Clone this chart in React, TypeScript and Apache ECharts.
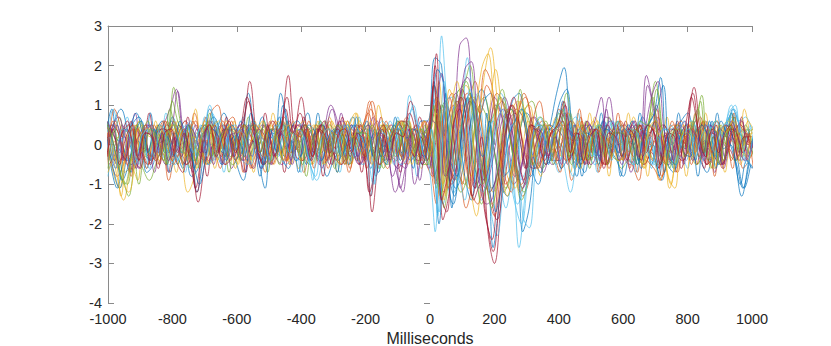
import React, { useEffect, useRef } from "react";
import * as echarts from "echarts";

// sample times (ms)
const times = [
  -1000, -980, -960, -940, -920, -900, -880, -860, -840, -820,
  -800, -780, -760, -740, -720, -700, -680, -660, -640, -620,
  -600, -580, -560, -540, -520, -500, -480, -460, -440, -420,
  -400, -380, -360, -340, -320, -300, -280, -260, -240, -220,
  -200, -180, -160, -140, -120, -100, -80, -60, -40, -20,
  0, 20, 40, 60, 80, 100, 120, 140, 160, 180,
  200, 220, 240, 260, 280, 300, 320, 340, 360, 380,
  400, 420, 440, 460, 480, 500, 520, 540, 560, 580,
  600, 620, 640, 660, 680, 700, 720, 740, 760, 780,
  800, 820, 840, 860, 880, 900, 920, 940, 960, 980,
  1000,
];
// per-trace sampling offset (ms), cycled over the traces
const sampleOffsets = [0, 8, -8, 4, -4];

const xTicks = [-1000, -800, -600, -400, -200, 0, 200, 400, 600, 800, 1000];
const yTicks = [-4, -3, -2, -1, 0, 1, 2, 3];

const colors = ["#0072BD", "#D95319", "#EDB120", "#7E2F8E", "#77AC30", "#4DBEEE", "#A2142F"];

const s1 = [
  .2,-.6,-1.1,-.4,.5,.7,.1,-.3,.4,-.2,
  .6,.2,-.5,-.1,-1.2,-.3,.9,.4,-.2,.3,
  -.4,.1,1.3,.2,-.6,.3,.1,1.3,.5,-.2,
  .3,-.5,.2,.4,-.1,.3,-.4,.1,.5,-.3,
  .2,-.6,.1,.4,-.2,.5,-.3,.2,.4,-.5,
  .3,2.2,2.0,-.6,-1.3,.4,1.2,-.5,-.9,.8,
  -2.6,-1.4,.3,1.1,1.3,.4,-.6,-1.0,-.2,.6,
  1.4,1.95,.3,-.8,.2,.5,-.3,.6,-.2,.4,
  -.3,.5,.2,-.6,.4,.8,1.7,-.4,-.7,.2,
  .5,-.3,.4,-.2,.6,-.5,.3,.8,-.4,-1.1,
  -.5,
];
const s2 = [
  -.3,.9,.4,-.5,-.2,.3,-.6,.1,.5,.2,
  -.4,.3,.6,-.2,.1,-.5,.8,1.0,.2,-.4,
  .2,-.7,.5,.3,-.3,.1,.6,-.2,.3,.5,
  -.2,.4,-.6,.2,.5,-.1,.3,-.4,.2,.1,
  .6,1.1,.3,-.4,.2,-.3,.5,-.2,.1,.6,
  -.4,-1.5,.8,1.2,-.3,-1.0,.9,1.6,.5,-1.2,
  -1.8,-.5,.9,.4,-1.2,-.8,.6,1.1,.3,-.4,
  .9,.6,-.9,-.3,.4,-.2,.3,-.5,.2,.1,
  .4,-.6,.3,.5,-.2,.1,-.8,-.3,.4,.6,
  -.2,.3,.7,-.5,-.3,.4,.2,-.6,.5,.3,
  .2,
];
const s3 = [
  .1,-.8,-1.4,-.6,.3,.5,-.2,.6,-.1,.3,
  .4,-.3,-1.2,-.8,.2,.5,-.1,.3,.6,-.2,
  .3,.2,-.4,.5,.1,-.3,.6,.2,-.5,.4,
  .6,-.1,.3,-.5,.7,.2,-.3,.4,.8,.1,
  -.4,.2,.5,-.3,.3,.6,.1,-.2,.4,.3,
  .5,1.6,-1.3,.4,1.1,.6,-.8,.3,1.7,2.45,
  1.2,-.3,-.9,-.2,.8,1.0,.2,-.4,.5,.3,
  -.3,.8,.5,-.6,.3,.6,-.2,.1,.4,-.3,
  .2,.5,-.3,-.6,.8,.3,-.4,-1.0,.2,.5,
  -.4,.2,.6,.3,-.5,.1,.4,.2,-.3,.6,
  .3,
];
const s4 = [
  -.2,.4,.7,.2,-.5,-.3,.4,-.4,.2,.5,
  .9,1.4,.3,-.2,.5,.1,-.4,.2,.5,-.3,
  .1,.4,-.2,-.6,.3,.5,-.1,.2,.4,-.5,
  .2,.5,.1,-.3,.4,1.0,.6,-.2,.3,-.4,
  .1,-.5,.3,.2,-.4,-1.2,-.6,.4,-1.0,-.3,
  .6,-.8,-.2,1.0,.4,2.5,2.7,1.0,-.4,-1.1,
  -.5,.4,1.2,.6,-.9,-.3,.5,.2,-.7,-.2,
  .4,.2,-.3,.5,.1,.2,.6,1.2,-.5,.3,
  .3,-.4,.6,.2,1.75,1.1,.4,-.2,-.5,.3,
  .6,-.2,.3,-.4,.5,.2,-.6,.1,.4,-.2,
  .4,
];
const s5 = [
  .4,.1,-.7,-1.3,-.4,.2,.6,-.1,.3,-.5,
  1.45,.6,-.3,.2,-.6,.3,.5,-.2,.4,.1,
  -.2,.5,.3,-.1,.6,-.4,.2,.5,-.3,.2,
  -.5,.3,.4,-.2,.1,-.6,.2,.5,-.1,.3,
  .4,-.2,-.6,.5,.3,-.1,.6,.2,-.3,.5,
  -.6,.9,-1.6,-.4,1.3,1.5,2.0,.5,-1.0,.4,
  .9,1.4,.4,-.6,-1.4,-.9,.3,.7,.2,-.5,
  .3,1.3,.2,-.4,.6,-.2,.5,-.3,.3,.6,
  -.2,.4,-.5,.3,.6,1.4,.2,-.6,.4,-.1,
  .3,.6,1.25,-.4,-.1,.5,.3,.7,-.2,.4,
  -.3,
];
const s6 = [
  -.4,.9,.3,-.2,.6,-.5,.2,.4,-.3,.1,
  .3,-.4,.2,.6,-.3,.2,1.0,.1,-.5,.4,
  .5,-.2,.4,.1,-.6,.3,-.1,.6,.2,.3,
  -.3,.2,-.9,.4,.1,.3,-.2,.5,-.4,.2,
  .3,-1.3,.2,-.3,.6,.2,-.4,1.25,.5,-.2,
  -.5,-2.2,2.75,.6,-1.2,-.3,2.2,.8,-.6,.3,
  .6,-.7,-1.6,-.8,-2.6,-1.2,.2,.6,-.3,.4,
  .2,-.5,-1.2,-.3,.5,.2,-.4,.3,.6,-.1,
  .5,-.3,.2,.6,-.2,-.5,.3,.4,-.6,.2,
  -.4,.2,-.3,.5,.1,-.2,.4,1.0,.6,.3,
  .5,
];
const s7 = [
  .3,-.4,.2,.6,-.3,-.6,.3,.2,-.5,.4,
  -.3,.5,.2,-.4,-1.45,-.5,.3,-.2,.4,.1,
  .4,.6,1.6,.3,-.5,.2,-.3,.5,1.75,.4,
  1.2,.3,-.2,.5,-.4,.2,.6,-.1,.3,-.5,
  .2,-1.7,-.4,.3,.5,-.2,.3,1.1,.4,-.3,
  .4,2.3,-1.9,-1.2,.3,1.4,.6,-1.1,.2,-2.2,
  -3.0,-1.5,.5,1.2,.4,-.6,.4,.3,-.5,.2,
  .6,1.0,-.3,.2,-.5,.4,.3,-.6,.2,.5,
  -.4,.3,.5,-.3,.2,.6,-.4,.3,.2,-.6,
  .4,1.45,.3,-.5,.2,-.3,.5,.2,-.4,.3,
  -.2,
];
const s8 = [
  -.5,-1.1,-.3,.4,.8,.2,-.4,.3,.6,-.2,
  .3,-.2,.5,-.6,.2,.4,.7,.3,-.4,.2,
  -.3,.2,.5,-.4,-1.1,.3,.2,-.3,.4,.6,
  .2,-.4,.3,.5,-.2,.4,.1,-.5,.3,.2,
  -.2,.4,-.3,.1,.5,-.4,.2,-.6,.3,.2,
  -.3,-2.0,1.3,-1.6,.4,-.8,-1.4,.2,1.1,1.3,
  .3,-.8,-.6,.5,-2.2,-1.6,-.2,.4,-.5,.3,
  -.6,-.3,.5,-.4,.2,.4,-.3,.5,.1,-.2,
  .2,.6,-.4,.3,-.5,.2,-.7,.4,.3,-.2,
  -.3,.4,-.2,.6,-.6,.2,.5,-.4,-1.3,-.5,
  .4,
];
const s9 = [
  .5,.2,-.6,.3,-.8,.4,.1,-.3,.2,.6,
  -.2,.4,-.5,.3,.6,-.3,.2,.5,-.1,.3,
  .4,-.3,.2,.6,-.2,.3,-.5,.1,.4,-.2,
  .3,.5,-.2,.4,.1,-.3,.5,.2,-.6,.4,
  .5,1.1,.2,-.2,.4,.1,-.3,.5,.2,-.4,
  .2,1.5,-1.0,.5,1.0,-.4,-1.6,-.9,.6,1.9,
  1.5,.2,-.8,-1.2,.6,1.3,.8,-.3,.2,.5,
  -.2,.5,.3,-.4,.6,-.3,.2,.4,-.5,.1,
  .6,.2,-.3,.5,.1,-.4,.2,-.5,.6,.3,
  .2,-.5,.4,-.2,.3,.6,-.4,.2,.5,-.6,
  -.4,
];
const s10 = [
  .2,-.3,-.9,-1.2,-.5,.3,.4,-.2,.5,-.1,
  .6,.3,-.4,.2,.1,-.5,.4,.6,-.3,.2,
  -.5,.3,.1,.4,-.3,.5,.2,-.4,.3,.1,
  .4,-.2,.5,.3,-.4,.2,-.3,.6,.1,-.2,
  .3,-.4,.2,.5,-.3,.2,.4,-.5,.3,.6,
  -.3,1.2,-1.4,.7,1.6,.3,-1.0,-1.8,-.3,.8,
  1.9,.8,-.4,-1.1,-.3,.6,-.2,-.8,.3,.2,
  .5,-.4,.2,.6,-.3,.4,-.5,.2,.3,-.4,
  -.3,.4,.3,-.6,.5,.3,.2,-1.1,-.4,.3,
  .5,-.2,.3,.4,-.6,.2,.6,.3,-.5,.2,
  .3,
];
const s11 = [
  .6,.3,-.2,.4,.1,-.6,.3,.5,-.2,.3,
  .4,1.35,.2,-.3,.4,-.2,.6,.3,-.5,.2,
  .3,-.4,.5,.2,-.6,-.2,.4,.3,-.1,.5,
  -.3,.4,.2,-.5,.3,.9,.2,-.3,.5,.2,
  -.4,.3,.6,-.2,.1,-.7,-1.2,.4,-.2,.3,
  -.6,.5,1.8,-.3,-.9,1.4,1.7,.9,-1.1,-1.5,
  -1.3,.3,.8,.3,-.5,-1.0,-.4,.2,.5,-.3,
  .3,.8,-.2,-.5,.3,.5,-.2,.4,1.2,.2,
  -.5,.3,.6,-.2,1.5,.8,-.3,.2,-.4,.5,
  .3,-.4,.2,.5,-.2,.4,-.3,.6,.2,-.4,
  .2,
];
const s12 = [
  -.6,.4,-.8,-1.0,.3,.6,-.3,.2,.4,-.5,
  1.1,.5,.2,-.4,.3,.5,-.3,.4,.1,-.3,
  .2,.5,-.3,.2,.4,-.5,.3,.6,-.2,.3,
  .4,-.3,.2,.6,-.2,.3,.5,-.4,.2,-.1,
  -.3,.5,.2,-.4,.3,.6,-.2,.3,-.5,.2,
  .5,-1.1,1.0,.3,-.5,.6,1.2,-.4,-1.5,-.6,
  .5,1.2,.6,-.3,1.4,.4,-.5,.2,.6,-.3,
  .8,.4,-.5,.2,.3,-.4,.5,.2,-.3,.4,
  .3,-.2,.4,-.5,.6,1.6,.4,-.3,-.5,.2,
  .4,.2,1.1,-.3,.2,-.5,.3,.4,-.2,.5,
  .1,
];
const s13 = [
  .3,-.5,.2,.5,-.4,.3,-.6,.2,.4,-.3,
  -.5,.2,.4,-.3,.5,.2,-.4,.6,.3,-.2,
  .3,-.2,.6,.4,-.4,.2,-.3,.5,.1,-.4,
  .2,-.5,-.9,-.3,.4,.2,-.3,.3,.5,-.2,
  .4,-1.0,.3,.2,-.5,.3,.5,1.0,.2,-.4,
  .2,-1.7,1.1,1.2,-.6,-1.4,.4,1.3,.2,-1.6,
  -2.3,-1.0,.4,.6,-1.8,-2.1,-.6,.3,-.4,.5,
  .9,.4,-.6,.3,-.2,.5,-.4,.2,.6,-.3,
  .2,-.5,.3,.4,-.6,.2,-.3,.5,.3,.6,
  -.2,.5,-.4,.3,.6,.2,.8,1.0,-.4,.3,
  .5,
];
const s14 = [
  -.2,.5,.3,-.4,.6,-.3,.2,-.5,.3,.4,
  .2,-.4,-.7,.3,-1.1,-.2,.5,.3,-.3,.4,
  -.3,.4,1.2,.5,-.2,.3,.6,.2,.9,.3,
  .5,.2,-.4,.3,.6,-.2,.4,.2,-.3,.5,
  .3,-1.2,-.5,.4,-.2,.3,.6,.5,-.3,.2,
  -.4,1.6,-1.2,-1.7,.5,.9,-.3,-1.3,-.6,-1.8,
  -2.4,-.8,.6,1.0,-.2,-.9,.5,.4,-.3,.2,
  .4,.6,-.4,.3,.2,-.5,.4,-.2,.5,.3,
  .3,-.4,.2,.5,-.2,.4,-.6,.3,-.2,.4,
  -.3,1.2,.4,-.6,.3,.2,-.5,.4,.3,-.2,
  .3,
];
const s15 = [
  .4,-.2,-.9,-.5,.3,.6,-.2,.4,-.3,.2,
  -.3,.6,.2,-.4,-1.0,-.3,.4,.2,-.3,.5,
  .2,-.3,.8,.2,-.5,.4,-.2,1.0,.3,-.4,
  -.2,.5,.3,-.4,.2,.4,-.3,.1,.5,.3,
  .6,-.3,.2,-.5,.3,.4,-.2,.4,.3,-.3,
  .5,1.9,1.5,-.4,-.8,.8,1.3,.2,-.3,.6,
  -1.7,-.9,.2,.6,.9,.3,-.4,-.7,.3,.5,
  1.1,1.4,.2,-.6,.3,.2,-.5,.4,.3,-.2,
  .4,.2,-.5,.3,.6,.9,1.5,-.3,-.5,.2,
  .3,-.4,.5,.2,-.3,.6,.2,-.3,-1.0,-.4,
  -.6,
];
const s16 = [
  -.5,.6,.2,-.3,.4,-.4,.5,.2,-.3,.6,
  .3,-.3,.4,.2,-.5,.3,.5,-.2,.6,.2,
  -.4,.3,-.2,.5,.3,-.3,.2,.4,-.4,.3,
  .2,.4,-.3,.5,-.2,.3,.2,-.5,.4,.1,
  -.3,.9,.5,-.3,.2,.4,-.4,.2,.5,-.2,
  .3,-1.0,.6,-1.1,-.5,.7,1.3,1.1,.8,1.5,
  1.1,-.2,-1.0,-.5,.9,1.2,.4,-.6,-.2,.3,
  -.4,.3,.6,-.3,.5,-.2,.4,.2,-.6,.3,
  .5,-.3,.4,.2,-.4,-.6,-.9,.3,.5,-.2,
  .2,.4,-.3,.6,-.2,.3,.5,-.4,.2,.4,
  -.2,
];
const s17 = [
  -.7,-.3,-1.3,.2,.5,-.2,.4,.3,-.4,.2,
  .5,.2,-.3,.4,-.2,.6,.3,-.4,.2,.5,
  .3,.5,-.4,.2,.6,-.2,.3,-.3,.5,.2,
  -.4,.3,.5,-.2,.4,.2,-.5,.3,.2,.6,
  .2,-.5,1.0,.3,-.2,.5,.2,-.3,.4,.2,
  -.2,.8,-1.0,1.4,.9,-.6,-1.1,.5,1.9,2.3,
  .8,-.6,-1.3,-.2,1.1,.7,-.3,.2,.5,-.2,
  .6,.3,-.2,.5,-.4,.3,.6,-.3,.2,.4,
  -.4,.3,.2,-.5,.4,.6,.3,-.8,-1.1,.2,
  .3,-.3,.4,.2,-.4,.5,.3,.6,.2,-.3,
  .4,
];
const s18 = [
  .3,.5,-.4,.2,-.6,.3,.5,-.2,.3,-.4,
  .2,-.3,.5,.3,-.2,.4,-.5,.2,.4,-.3,
  .5,.2,-.3,.4,.2,-.5,.3,.2,-.4,.5,
  .3,-.3,.4,.2,-.5,.4,.6,.2,-.3,.2,
  .5,-.2,.3,-.4,.2,-1.1,-.4,.3,-.9,.2,
  .6,.3,-.8,-.3,.5,1.9,2.1,.4,-.9,-.4,
  .6,.9,.3,-.5,-1.1,-.5,.4,.3,-.3,.2,
  -.5,.4,.2,-.3,.6,.3,-.4,.9,-.2,.4,
  .2,.5,-.3,.4,1.2,1.6,.3,-.4,.2,-.5,
  .4,.2,-.3,.5,.3,-.5,.2,.4,.6,-.3,
  .2,
];
const s19 = [
  .6,.2,-.5,-1.0,-.3,.5,-.2,.4,.2,-.4,
  .9,.3,-.2,.5,-.4,.2,.6,-.3,.2,.4,
  .3,-.4,.2,.5,-.2,.3,.4,-.5,.2,.3,
  -.2,.5,.3,-.4,.2,-.3,.5,.2,-.4,.3,
  .3,.2,-.4,.5,.3,-.3,.2,.6,-.2,.4,
  -.5,1.0,-1.3,-.6,.8,1.1,1.6,.9,-.2,-.9,
  -1.6,-.5,.7,.9,-.7,-1.2,-.3,.4,.5,-.2,
  .4,.9,-.3,.2,.5,-.4,.3,.2,-.5,.3,
  .3,.2,-.4,.6,.5,1.2,-.2,-.5,.3,.4,
  -.3,.4,.9,-.2,.4,.3,-.4,.5,.3,.2,
  -.3,
];
const s20 = [
  .2,-.6,.4,.3,-.5,.2,.4,-.3,.5,.1,
  -.4,.3,.5,-.2,.4,-.3,.8,.3,-.2,.4,
  .4,.2,-.5,.3,.1,-.4,.5,.3,-.2,.4,
  .3,-.4,-.8,.2,.4,-.2,.3,.5,-.3,.2,
  -.2,-1.0,.4,.2,-.3,.5,.3,.9,.4,-.3,
  .4,-1.8,1.6,.3,-.9,-.2,1.4,.5,-1.2,-.7,
  .3,.9,-.6,-1.5,-2.0,-.8,.4,.5,-.2,.3,
  .5,-.3,-.8,.4,.2,-.3,.5,.2,-.4,.6,
  -.2,.4,.3,-.3,.2,-.6,.4,.3,-.5,.2,
  .4,-.3,.2,.5,-.2,.4,.6,.9,.3,-.5,
  .3,
];
const s21 = [
  -.3,.4,-.5,.2,.5,-.4,.3,.2,-.6,.3,
  .4,-.2,.3,-.5,-1.2,.2,.5,-.3,.2,.6,
  -.2,.3,1.1,.2,-.4,.5,-.3,.4,1.2,.3,
  .8,.2,-.3,.4,.2,-.5,.3,.4,-.2,.3,
  -.3,-1.3,.2,.5,-.4,.3,.2,.8,.3,-.5,
  .2,2.0,-1.4,-.7,.6,1.2,.3,-1.4,-1.0,-1.9,
  -2.7,-1.3,.4,1.0,.3,-.6,.5,.2,-.4,.3,
  .5,1.1,-.2,.3,-.4,.2,.4,-.5,.3,.2,
  -.3,.4,.2,-.4,.5,.3,-.5,.2,.4,-.3,
  .6,1.3,.2,-.3,.4,-.2,.3,.5,-.3,.2,
  .2,
];
const s22 = [
  .1,.6,.9,.4,-.2,-.1,-.7,-.5,.2,.0,
  .7,.3,-.1,-.8,-.6,.1,-.3,.4,.8,.2,
  -.5,-.9,-.1,.2,.7,.3,.5,-.3,-.6,.1,
  .4,.8,.0,-.2,-.8,-.4,-.1,.3,.7,.1,
  -.3,-.1,-.7,.2,.1,.6,.2,-.4,-.1,.3,
  .5,1.2,.6,-.5,-1.1,-.7,.3,1.0,1.4,.9,
  -.2,-1.0,-1.3,-.5,.4,.8,.5,-.1,-.5,-.3,
  .1,.8,.3,-.3,-.7,.0,.2,.6,-.1,-.4,
  -.8,-.2,.1,.7,.2,-.4,-.9,-.1,.3,.6,
  .8,.1,-.4,-.7,.0,.4,.2,.9,.5,-.3,
  -.6,
];
const s23 = [
  -.4,-.8,-.5,.0,.5,.1,.3,-.4,-.2,-.9,
  -.1,.3,.2,.8,.1,-.5,-.2,-.6,.5,.7,
  .1,.4,-.6,-.3,-.7,.4,.2,.7,-.2,-.1,
  -.7,.1,.5,.2,.6,-.4,-.1,-.7,.1,.4,
  .8,.0,-.3,-.6,.1,.4,.7,.1,-.3,-.5,
  -.8,-.4,.6,1.3,.8,-.3,-1.2,-1.5,-.6,.5,
  1.3,1.0,.2,-.6,-1.3,-.9,.0,.6,.4,-.1,
  -.6,.4,.2,.7,-.4,-.3,-.6,.4,.2,.6,
  -.2,-.5,-.9,.1,.2,.7,-.1,-.2,-.7,.1,
  .5,.2,.6,-.5,-.3,-.6,.3,.2,.6,-.4,
  -.1,
];
const s24 = [
  .8,.0,.2,-.7,-.6,-.9,.3,.2,.5,-.4,
  -.3,-.7,.4,.2,.9,.1,.1,-.6,.0,-.2,
  .6,-.2,.0,-.7,.2,.1,.8,-.1,-.4,-.3,
  -.6,.3,.2,.6,-.5,-.2,-.7,.5,.4,.8,
  -.1,.1,-.6,.2,.5,.2,.6,-.5,-.2,-.6,
  .3,.9,.4,-.7,-.3,.8,1.5,1.1,.2,-.8,
  -1.5,-.9,.1,.8,1.1,.6,-.2,-.6,-.3,.2,
  .7,.1,.2,-.6,.0,-.1,.7,.1,-.4,-.2,
  .1,.0,.7,.1,-.4,.0,-.9,-.6,-.2,.5,
  .2,.6,-.5,-.1,-.6,.5,.2,.5,-.4,-.2,
  -.4,
];
const s25 = [
  -.2,-.6,.5,.3,.8,-.2,-.1,-.7,.1,.0,
  .6,.0,.1,-.7,-.1,-.2,.6,.2,.3,-.6,
  -.3,-.7,.4,.1,.5,-.5,-.2,-.4,.6,.2,
  .5,-.4,-.2,-.6,.4,.3,.8,-.2,-.1,-.5,
  .1,.7,-.1,.0,-.8,-.5,-.6,.3,.0,.2,
  -.3,-1.0,-.5,.6,1.1,.5,-.4,-1.0,-.5,.4,
  1.0,.7,-.1,-.8,-.5,.3,.7,.4,-.2,-.4,
  -.4,.5,.2,.4,-.5,-.1,-.3,.7,.6,.0,
  .1,-.7,-.1,.4,.3,1.0,.2,.3,-.6,.1,
  -.1,.6,-.2,-.1,-.7,.1,-.1,.7,.0,.2,
  -.1,
];
const s26 = [
  .6,.3,.7,-.4,-.2,-1.0,-.3,-.4,.5,.2,
  .5,-.5,-.2,-.6,.3,.2,.8,.0,.2,-.7,
  .2,.0,.7,-.1,.1,-.7,-.1,-.2,.6,-.1,
  .1,-.8,-.1,-.2,.6,.3,.4,-.5,-.2,-.4,
  .5,.1,.3,-.6,-.3,-.4,.6,.2,.4,-.5,
  -.5,.4,1.0,.5,-.6,-1.2,-.8,.3,1.0,.7,
  .0,-.7,-1.1,-.6,.2,.9,1.1,.5,-.2,-.4,
  .1,-.1,.8,.1,.2,-.6,.1,.0,.7,-.1,
  -.6,-.4,-.5,.4,.2,.6,-.5,-.2,-.6,.4,
  .2,.6,-.3,-.1,-.6,.4,.2,.8,-.1,-.1,
  -.3,
];
const s27 = [
  -.8,-.1,.0,.7,.1,.2,-.6,.1,.1,.8,
  .0,.2,-.7,-.1,-.1,.7,.0,.1,-.7,.1,
  -.1,.7,.0,.2,-.6,.1,-.1,.7,.0,.1,
  -.7,-.1,-.2,.6,-.1,.1,-.7,.0,-.1,.7,
  .0,.2,-.6,.1,-.1,.7,.0,.1,-.8,.0,
  .4,-.3,-1.5,-.6,.5,1.0,.4,-.7,-1.4,-.8,
  .4,1.3,.9,-.2,-.9,-.6,.3,.7,.3,-.2,
  -.7,.1,.0,.8,.0,.1,-.7,.0,-.1,.6,
  -.1,.1,-.7,.0,-.1,.7,.0,.2,-.6,-.3,
  -.6,.5,.2,.6,-.5,-.1,-.4,.8,.6,.7,
  .3,
];
const s28 = [
  .4,-.5,-.3,-.7,.4,.1,.8,.0,.2,-.7,
  .0,-.1,.7,-.1,.1,-.8,.0,-.1,.7,.0,
  .2,-.7,.1,.0,.8,.0,.2,-.7,.1,-.1,
  .7,.0,.1,-.8,.0,-.1,.7,.1,.2,-.7,
  .1,-.1,.7,.0,.2,-.7,.1,-.1,.7,.1,
  -.2,.6,-.4,-1.0,-.3,.7,1.2,.6,-.5,-1.3,
  -1.9,-1.1,.0,.9,.7,-.1,-.6,-.3,.2,.4,
  .5,-.5,-.2,-.5,.6,.2,.5,-.5,-.1,-.4,
  .6,.2,.5,-.5,-.2,-.6,.5,.2,.6,-.4,
  -.1,-.5,.6,.2,.5,-.5,-.1,-.4,.7,.0,
  .2,
];
const s29 = [
  .1,.9,.1,.2,-.7,.1,-.1,.8,.0,.1,
  -.7,-.3,-.6,.5,.1,.5,-.5,-.2,-.5,.5,
  .2,.6,-.4,-.1,-.8,.0,-.1,.7,-.1,.1,
  -.7,.2,.0,.8,-.1,.1,-.7,.1,-.1,.7,
  -.1,.1,-.8,.0,-.1,.7,-.2,.0,-.4,.6,
  .6,1.5,.7,-.8,-1.5,-.6,.5,1.1,.6,-.4,
  -1.1,-.6,.4,.9,.4,-.4,-.8,-.3,.3,.5,
  .4,1.1,.0,.1,-.8,.1,-.1,.8,-.1,.0,
  -.8,.1,.0,.8,-.1,.0,-.8,.1,.0,.8,
  -.1,.0,-.8,.1,.0,.8,-.1,.0,-.5,-1.1,
  -.4,
];
const s30 = [
  -.4,.6,.2,.5,-.6,-.2,-.5,.5,.2,.6,
  -.5,-.2,-.5,.6,.3,.7,-.4,-.1,-.5,.6,
  .2,.5,-.6,-.2,-.5,.6,.3,.6,-.5,-.1,
  -.4,.6,.2,.5,-.6,-.2,-.5,.6,.2,.5,
  -.6,-.2,-.5,.6,.3,.6,-.5,-.2,-.5,.6,
  .1,-.7,-1.2,-.4,.7,1.2,.6,-.4,-.9,-.3,
  .8,1.1,.5,-.5,-1.0,-.5,.2,.5,.2,-.2,
  -.7,.2,.1,.9,.0,.1,-.7,.2,.0,.8,
  -.1,.1,-.7,.2,.0,.9,.0,.2,-.7,.1,
  -.1,.8,.0,.1,-.8,.1,.0,.8,-.1,.1,
  -.6,
];
const s31 = [
  .3,-.7,-1.1,-.3,-.4,.6,.2,.5,-.5,-.1,
  -.4,.6,.2,.5,-.6,-.2,-.5,.6,.2,.5,
  -.6,-.2,-.5,.6,.2,.5,-.5,-.1,-.4,.6,
  .2,.5,-.5,-.2,-.5,.6,.3,.6,-.5,-.1,
  -.4,.6,.2,.5,-.5,-.1,-.4,.6,.1,.4,
  -.3,.3,.9,.3,-.9,-.5,.6,1.2,.7,-.3,
  -1.2,-.7,.3,1.0,.6,-.2,-.5,-.2,.2,.4,
  -.1,.1,-.7,.2,.0,.8,-.1,.1,-.8,.1,
  .0,.8,-.1,.1,-.8,.1,-.1,.7,-.2,.0,
  -.8,.1,.0,.8,-.1,.1,-.7,.1,.0,.9,
  .0,
];
const s32 = [
  .5,.2,-.2,-.4,-.1,.3,.5,.3,-.1,-.5,
  -.2,.3,.6,.3,-.2,-.4,-.1,.3,.5,.2,
  -.2,-.4,-.1,.3,.5,.2,-.3,-.5,-.2,.2,
  .4,.2,-.2,-.4,-.1,.3,.5,.2,-.2,-.5,
  -.2,.2,.4,.1,-.3,-.6,-.3,.2,.5,.2,
  -.2,-.9,-.3,.8,1.3,.6,-.5,-1.1,-.6,.4,
  1.2,.8,-.2,-1.0,-.7,.2,.7,.4,-.2,-.5,
  -.2,.3,.6,.3,-.2,-.5,-.2,.3,.6,.2,
  -.3,-.5,-.2,.3,.5,.2,-.3,-.5,-.2,.3,
  .5,.2,-.2,-.5,-.2,.3,.5,.2,-.2,-.4,
  .1,
];
const s33 = [
  -.3,.1,.4,.2,-.2,-.6,-.9,-.5,.0,.4,
  .5,.2,-.2,-.4,-.1,.3,.5,.2,-.3,-.5,
  -.2,.3,.5,.2,-.2,-.4,-.1,.3,.5,.2,
  -.3,-.5,-.2,.3,.5,.2,-.3,-.5,-.2,.3,
  .5,.2,-.3,-.5,-.2,.3,.5,.2,-.2,-.4,
  .0,.7,1.1,.4,-.7,-1.0,-.3,.8,1.2,.5,
  -.6,-1.2,-.8,.2,.9,.6,-.2,-.6,-.3,.2,
  .4,.2,-.2,-.5,-.2,.3,.5,.2,-.3,-.4,
  -.1,.3,.5,.2,-.3,-.5,-.2,.3,.5,.2,
  -.2,-.5,-.2,.3,.6,.3,-.2,-.4,-.1,.3,
  .4,
];
const s34 = [
  .2,.5,.3,-.2,-.5,-.3,.2,.5,.2,-.3,
  -.5,-.2,.3,.5,.2,-.3,-.5,-.2,.3,.5,
  .2,-.3,-.5,-.2,.3,.5,.2,-.2,-.5,-.3,
  .2,.5,.3,-.2,-.5,-.2,.3,.5,.2,-.3,
  -.5,-.2,.3,.6,.3,-.2,-.5,-.3,.2,.4,
  .2,-.5,-1.1,-.3,.9,1.4,.7,-.5,-1.1,-.6,
  .5,1.0,.4,-.7,-1.5,-1.0,-.1,.5,.4,-.1,
  -.5,-.2,.4,.7,.3,-.2,-.5,-.2,.3,.5,
  .2,-.3,-.5,-.2,.3,.5,.2,-.3,-.5,-.2,
  .4,.6,.3,-.2,-.4,-.1,.4,.7,.5,.1,
  -.2,
];
const s35 = [
  -.5,-.2,.3,.5,.2,-.2,-.5,-.3,.2,.5,
  .2,-.3,-.5,-.2,.3,.5,.3,-.2,-.5,-.3,
  .3,.5,.2,-.2,-.5,-.2,.3,.5,.2,-.3,
  -.4,-.1,.3,.5,.2,-.3,-.5,-.2,.3,.5,
  .2,-.3,-.5,-.2,.3,.5,.2,-.2,-.4,-.1,
  .5,1.1,.3,-.9,-.5,.5,1.1,.4,-.6,-1.2,
  -.9,-.1,.6,.8,.2,-.5,-.6,-.1,.4,.3,
  -.1,-.4,-.2,.3,.5,.2,-.3,-.5,-.2,.3,
  .5,.2,-.3,-.5,-.2,.3,.5,.2,-.2,-.4,
  -.1,.3,.5,.2,-.3,-.5,-.2,.3,.5,.2,
  -.1,
];

const traces = [
  s22, s23, s24, s25, s26, s27, s28, s29, s30, s31, s32, s33, s34, s35,
  s1, s2, s3, s4, s5, s6, s7, s8, s9, s10, s11, s12, s13, s14, s15, s16, s17, s18, s19, s20, s21,
];

const AXIS_GRAY = "#8a8a8a";
const TEXT = "#262626";
const FONT = "'Liberation Sans', Arial, Helvetica, sans-serif";

export default function App() {
  const ref = useRef<HTMLDivElement>(null);
  useEffect(() => {
    if (!ref.current) return;
    const chart = echarts.init(ref.current, null, { renderer: "svg" });
    const xMin = xTicks[0];
    const xMax = xTicks[xTicks.length - 1];
    const yMin = yTicks[0];
    const yMax = yTicks[yTicks.length - 1];
    const tickStyle = { show: true, inside: true, length: 6, lineStyle: { color: AXIS_GRAY, width: 1 } };
    chart.setOption({
      animation: false,
      color: colors,
      grid: { left: 108, top: 26, width: 644, height: 277, containLabel: false, outerBoundsMode: "none" },
      xAxis: [
        {
          type: "value",
          position: "bottom",
          min: xMin,
          max: xMax,
          interval: 200,
          axisLine: { show: false },
          axisTick: tickStyle,
          splitLine: { show: false },
          axisLabel: { color: TEXT, fontSize: 14.5, fontFamily: FONT, margin: 8, formatter: (v: number) => String(v) },
          name: "Milliseconds",
          nameLocation: "middle",
          nameGap: 23,
          nameTextStyle: { color: TEXT, fontSize: 16, fontFamily: FONT },
        },
        {
          type: "value",
          position: "top",
          min: xMin,
          max: xMax,
          interval: 200,
          axisLine: { show: true, onZero: false, lineStyle: { color: AXIS_GRAY, width: 1 } },
          axisTick: tickStyle,
          splitLine: { show: false },
          axisLabel: { show: false },
        },
      ],
      yAxis: [
        {
          type: "value",
          position: "left",
          min: yMin,
          max: yMax,
          interval: 1,
          axisLine: { show: true, onZero: false, lineStyle: { color: AXIS_GRAY, width: 1 } },
          axisTick: tickStyle,
          splitLine: { show: false },
          axisLabel: { color: TEXT, fontSize: 14.5, fontFamily: FONT, margin: 6, formatter: (v: number) => String(v) },
        },
        {
          type: "value",
          position: "right",
          min: yMin,
          max: yMax,
          interval: 1,
          axisLine: { show: false },
          axisTick: tickStyle,
          splitLine: { show: false },
          axisLabel: { show: false },
        },
      ],
      series: traces.map((vals, k) => {
        const off = sampleOffsets[k % sampleOffsets.length];
        return {
          type: "line",
          name: "trace" + (k + 1),
          xAxisIndex: 0,
          yAxisIndex: 0,
          data: vals.map((v, i) => [times[i] + off, v]),
          showSymbol: false,
          symbol: "none",
          smooth: 0.4,
          lineStyle: { width: 0.7, color: colors[k % colors.length] },
          silent: true,
          clip: true,
        };
      }),
    });
    return () => chart.dispose();
  }, []);
  return <div ref={ref} style={{ width: 831, height: 346, position: "absolute", left: 0, top: 0 }} />;
}
